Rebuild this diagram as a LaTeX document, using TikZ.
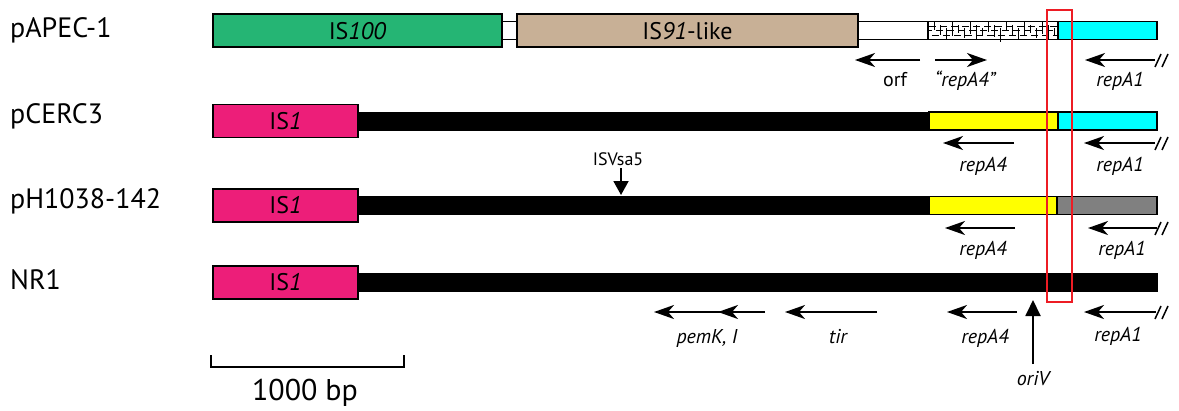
\documentclass[tikz,border=0pt]{standalone}
\usepackage{fontspec}
\setmainfont{PT Sans}
\usetikzlibrary{arrows.meta}

\begin{document}
\begin{tikzpicture}[x=1pt,y=-1pt,
    rowlabel/.style={anchor=base west, inner sep=0pt, font=\fontsize{28}{32}\selectfont},
    boxlabel/.style={inner sep=0pt, font=\fontsize{24}{28}\selectfont},
    genelabel/.style={anchor=base, inner sep=0pt, font=\fontsize{20}{24}\selectfont\itshape},
    part/.style={draw=black, line width=1.8pt},
    gene/.style={line width=1.9pt, -{Stealth[length=20pt,width=14pt,inset=6pt]}},
    site/.style={line width=1.9pt, -{Triangle[length=14pt,width=15pt]}},
    slash/.style={line width=1.5pt}]

    % Define colors
    \definecolor{isgreen}{RGB}{37,181,116}
    \definecolor{isbeige}{RGB}{200,176,150}
    \definecolor{ismagenta}{RGB}{237,30,121}
    \definecolor{repcyan}{RGB}{0,255,255}
    \definecolor{repyellow}{RGB}{255,255,0}
    \definecolor{repred}{RGB}{237,28,36}
    \definecolor{repgray}{RGB}{128,128,128}

    \useasboundingbox (0,0) rectangle (1179,410);

    % Row labels
    \node[rowlabel] (lblapec) at (10,37) {pAPEC-1};
    \node[rowlabel] (lblcerc) at (10,123) {pCERC3};
    \node[rowlabel] (lblh1038) at (10,208) {pH1038-142};
    \node[rowlabel] (lblnr) at (10,289) {NR1};

    % pAPEC-1
    \draw[part, fill=white] (502,21.5) rectangle (517,39.5);
    \draw[part, fill=white] (858,21.5) rectangle (928,39.5);
    \draw[part, fill=isgreen] (213,14) rectangle (502,47);
    \draw[part, fill=isbeige] (517,14) rectangle (858,47);
    \node[boxlabel] (is100) at (357.5,31) {IS\textit{100}};
    \node[boxlabel] (is91) at (687.5,31) {IS\textit{91}-like};
    % hatched stretch
    \foreach \k in {0,...,20} {
        \draw[line width=0.7pt] ({934+6*\k},{22+mod(\k,3)*3}) -- ++(0,{8+mod(\k*5,4)*2});
    }
    \foreach \yy/\ph in {26/0,30.5/4,35/8} {
        \draw[line width=0.7pt, dash pattern=on 7pt off 4pt, dash phase=\ph pt] (929,\yy) -- (1057,\yy);
    }
    \draw[part] (928,21.5) rectangle (1058,39.5);
    \draw[part, fill=repcyan] (1058,21.5) rectangle (1157,39.5);

    % pCERC3
    \fill[black] (358,111.5) rectangle (930,130.5);
    \draw[part, fill=ismagenta] (213,104.5) rectangle (358,137.5);
    \draw[part, fill=repyellow] (929,112) rectangle (1058,130);
    \draw[part, fill=repcyan] (1058,112) rectangle (1157,130);
    \node[boxlabel] (iscerc) at (285.5,121) {IS\textit{1}};

    % pH1038-142
    \fill[black] (358,196) rectangle (930,215);
    \draw[part, fill=ismagenta] (213,189) rectangle (358,222);
    \draw[part, fill=repyellow] (929,196.5) rectangle (1057,214.5);
    \draw[part, fill=repgray] (1057,196.5) rectangle (1157,214.5);
    \node[boxlabel] (ish1038) at (285.5,205.5) {IS\textit{1}};

    % NR1
    \fill[black] (358,273) rectangle (1158,292);
    \draw[part, fill=ismagenta] (213,266) rectangle (358,299);
    \node[boxlabel] (isnr) at (285.5,282.5) {IS\textit{1}};

    % Genes of pAPEC-1
    \draw[gene] (920,60) -- (855,60);
    \draw[gene] (935,60) -- (987,60);
    \draw[gene] (1155,60) -- (1085,60);
    \node[genelabel, font=\fontsize{20}{24}\selectfont] (orf) at (895,86) {orf};
    \node[genelabel] (repfour) at (965,86) {“repA4”};
    \node[genelabel] (aonea) at (1120,86) {repA1};

    % Genes of pCERC3
    \draw[gene] (1014,143) -- (943,143);
    \draw[gene] (1155,143) -- (1084,143);
    \node[genelabel] (afourb) at (983,171) {repA4};
    \node[genelabel] (aoneb) at (1120,171) {repA1};

    % Genes of pH1038-142
    \draw[site] (621,168) -- (621,195);
    \node[genelabel, font=\fontsize{18}{22}\selectfont] (isvsa) at (618,165) {ISVsa5};
    \draw[gene] (1015,228) -- (945,228);
    \draw[gene] (1157,228) -- (1088,228);
    \node[genelabel] (afourc) at (983,255) {repA4};
    \node[genelabel] (aonec) at (1122,255) {repA1};

    % Genes of NR1
    \draw[gene] (765,312) -- (718,312);
    \draw[gene] (720,312) -- (654,312);
    \draw[gene] (877,312) -- (785,312);
    \draw[gene] (1017,312) -- (947,312);
    \draw[gene] (1156,312) -- (1084,312);
    \node[genelabel] (pemk) at (707,343) {pemK, I};
    \node[genelabel] (tir) at (838,343) {tir};
    \node[genelabel] (afourd) at (985,343) {repA4};
    \node[genelabel] (aoned) at (1118,341) {repA1};
    \draw[site, -{Triangle[length=16pt,width=15pt]}] (1033,364) -- (1033,300);
    \node[genelabel] (oriv) at (1033,385) {oriV};

    % Break marks
    \foreach \yy in {60,143,228,312} {
        \draw[slash] (1155,{\yy+7}) -- ++(6,-13);
        \draw[slash] (1162,{\yy+7}) -- ++(6,-13);
    }

    % Origin window
    \draw[repred, line width=2pt] (1047,10) rectangle (1072,302);

    % Scale bar
    \draw[line width=1.6pt] (211,355) -- (211,367) -- (404,367) -- (404,355);
    \node[anchor=base, inner sep=0pt, font=\fontsize{30}{34}\selectfont] (scale) at (305,400) {1000 bp};

\end{tikzpicture}
\end{document}
